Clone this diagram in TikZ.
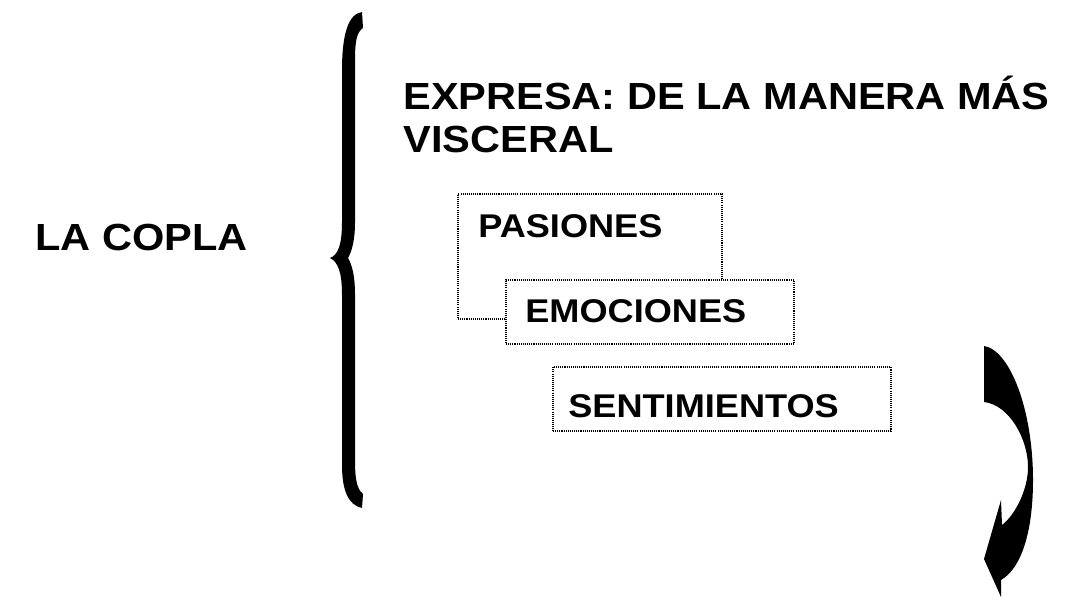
\documentclass[tikz,border=0pt]{standalone}
\usepackage{fontspec}
\setmainfont{Liberation Sans}[FakeStretch=1.1]
\usetikzlibrary{positioning}
\tikzset{
	dotbox/.style={rectangle, draw=black, fill=white, line width=1.2pt, dash pattern=on 0.6pt off 0.6pt, anchor=north west, inner sep=0pt},
	bigtext/.style={anchor=base west, inner sep=0pt, align=left, font=\fontsize{21.5}{24.4}\selectfont\bfseries},
	boxtext/.style={anchor=base west, inner sep=0pt, font=\fontsize{18.7}{22}\selectfont\bfseries}
}

\begin{document}
\begin{tikzpicture}[x=0.02cm, y=-0.02cm]
		\useasboundingbox (0,0) rectangle (1071,605);
		
		\node[bigtext] at (35,250) (copla)    {LA COPLA};
		\node[bigtext] at (403,152) (expresa)    {EXPRESA: DE LA MANERA MÁS\\VISCERAL};
		
		\fill (362,12) .. controls (348,14) and (342,35) .. (342,70) -- (342,222) .. controls (342,245) and (338,255) .. (330,258) .. controls (338,262) and (342,272) .. (342,295) -- (342,465) .. controls (342,490) and (348,505) .. (362,508) -- (363,494) .. controls (357,489) and (355,480) .. (355,460) -- (355,295) .. controls (355,275) and (352,265) .. (348,258) .. controls (352,251) and (355,240) .. (355,222) -- (355,60) .. controls (355,40) and (357,32) .. (363,28) -- cycle;
		
		\node[dotbox, minimum width=5.28cm, minimum height=2.5cm] at (457,193) (pas) {};
		\node[dotbox, minimum width=5.76cm, minimum height=1.28cm] at (505,279) (emo) {};
		\node[dotbox, minimum width=6.76cm, minimum height=1.28cm] at (552,366) (sen) {};
		
		\node[boxtext] at (478,237) (past)    {PASIONES};
		\node[boxtext] at (525,322) (emot)    {EMOCIONES};
		\node[boxtext] at (568,417) (sent)    {SENTIMIENTOS};
		
		\fill (984,346) -- (984,402) .. controls (1010,405) and (1028,440) .. (1028,467) .. controls (1028,490) and (1015,515) .. (1002,525) -- (1001,500) -- (984,559) -- (1001,597) -- (1001,580) .. controls (1022,568) and (1033,530) .. (1033,480) .. controls (1033,410) and (1010,350) .. (984,346) -- cycle;
	\end{tikzpicture}
\end{document}
